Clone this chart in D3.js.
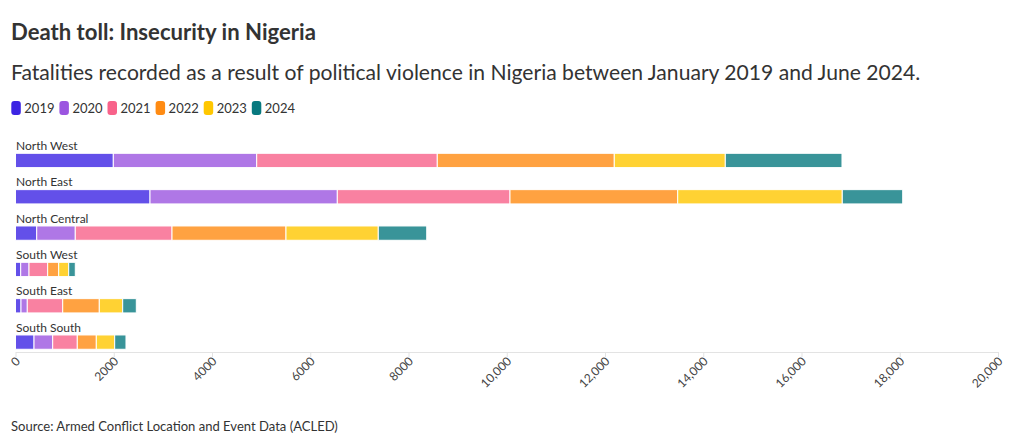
<!DOCTYPE html>
<html><head><meta charset="utf-8">
<script src="https://cdn.jsdelivr.net/npm/d3@7"></script>
<style>
body{margin:0;background:#fff;}
text{font-family:"Source Sans Pro","Lato","Noto Sans",sans-serif;}
</style></head>
<body><svg id="c" width="1020" height="446"></svg>
<script>
const regions = ["North West","North East","North Central","South West","South East","South South"];
const years = ["2019","2020","2021","2022","2023","2024"];
const v2019 = [1991, 2738, 432, 106, 112, 377];
const v2020 = [2919, 3813, 785, 169, 128, 380];
const v2021 = [3676, 3515, 1969, 380, 721, 501];
const v2022 = [3603, 3414, 2320, 224, 745, 387];
const v2023 = [2260, 3350, 1879, 204, 476, 374];
const v2024 = [2375, 1230, 986, 134, 277, 230];
const colors = ["#3c24e3","#9b55e0","#f8628a","#ff8b12","#ffc700","#08797f"];
const tickValues = [0,2000,4000,6000,8000,10000,12000,14000,16000,18000,20000];

const series = [v2019,v2020,v2021,v2022,v2023,v2024];
const rows = regions.map((r,i)=>{const o={region:r}; years.forEach((y,j)=>o[y]=series[j][i]); return o;});
const stacked = d3.stack().keys(years)(rows);

const svg = d3.select("#c");
const x = d3.scaleLinear().domain([0,20000]).range([15.5,998]);
const y = d3.scaleBand().domain(regions).range([135,353]).paddingInner(0).paddingOuter(0);
const barH = 14.3;
const color = d3.scaleOrdinal().domain(years).range(colors);

function fitText(sel, w){
  const n = sel.node(); const L = n.getComputedTextLength();
  const fs = parseFloat(sel.attr("font-size"));
  sel.attr("font-size", fs*w/L);
}

const title = svg.append("text").attr("x",11).attr("y",39.5).attr("font-size",22).attr("font-weight",700).attr("fill","#333").text("Death toll: Insecurity in Nigeria");
fitText(title, 305);
const sub = svg.append("text").attr("x",11).attr("y",79.5).attr("font-size",20).attr("fill","#333").text("Fatalities recorded as a result of political violence in Nigeria between January 2019 and June 2024.");
fitText(sub, 910);

// legend
const lg = svg.append("g");
years.forEach((yr,i)=>{
  const g = lg.append("g").attr("transform",`translate(${11.3+i*48.1},101)`);
  g.append("rect").attr("width",9.5).attr("height",14).attr("rx",3).attr("fill",color(yr));
  g.append("text").attr("x",13).attr("y",11.8).attr("font-size",13).attr("fill","#333").text(yr);
});

// axis
const ax = svg.append("g").attr("transform","translate(0,352)")
  .call(d3.axisBottom(x).tickValues(tickValues).tickSize(5).tickSizeOuter(0)
    .tickFormat(d=> d>=10000 ? d3.format(",")(d) : String(d)));
ax.select(".domain").attr("stroke","#e3e3e3");
ax.selectAll(".tick line").attr("stroke","#e3e3e3");
ax.selectAll(".tick text").attr("font-size",12).attr("fill","#444")
  .attr("text-anchor","end").attr("dy",null).attr("y",0)
  .attr("transform","translate(5,10) rotate(-45)");

// bars
const gBars = svg.append("g");
stacked.forEach(s=>{
  gBars.selectAll(null).data(s).join("rect")
    .attr("x",d=>x(d[0])).attr("width",d=>x(d[1])-x(d[0]))
    .attr("y",d=>y(d.data.region)+18.3).attr("height",barH)
    .attr("fill",color(s.key)).attr("fill-opacity",0.8)
    .attr("stroke","#fff").attr("stroke-width",1);
});
// labels
svg.append("g").selectAll("text").data(regions).join("text")
  .attr("x",16).attr("y",r=>y(r)+15).attr("font-size",12).attr("fill","#333").text(r=>r);

const src = svg.append("text").attr("x",11).attr("y",431).attr("font-size",13).attr("fill","#333").text("Source: Armed Conflict Location and Event Data (ACLED)");
fitText(src, 327);
</script></body></html>
